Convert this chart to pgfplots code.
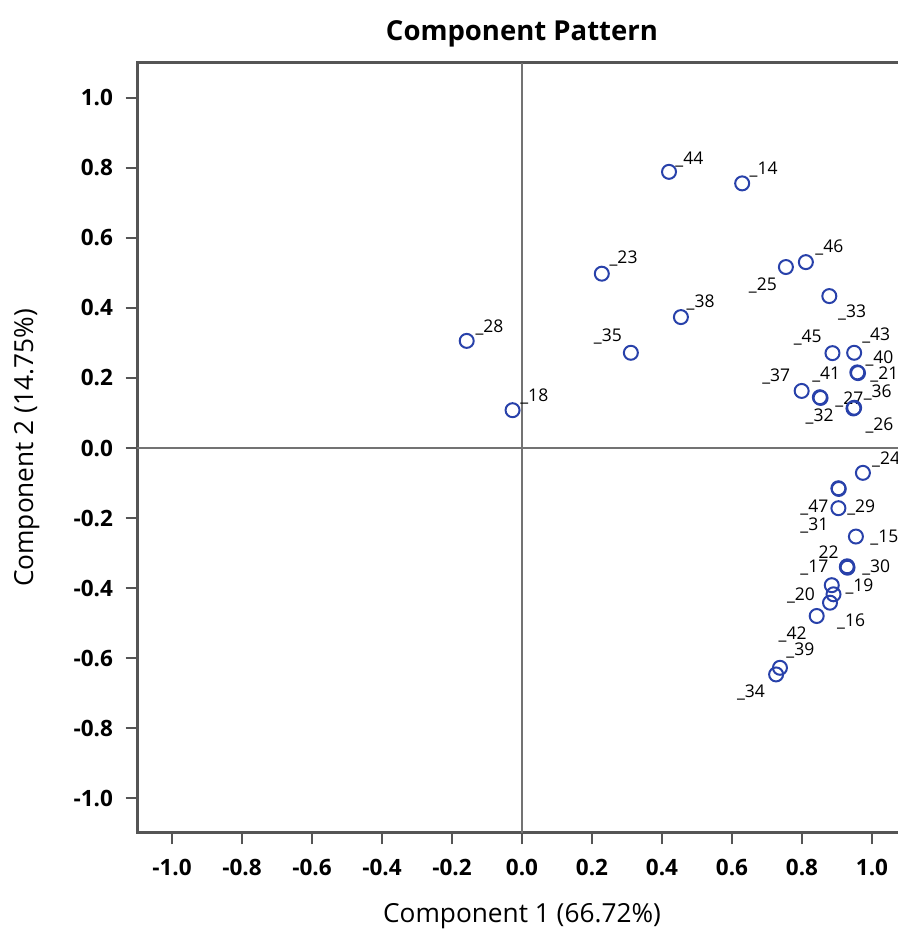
\documentclass[border=0pt]{standalone}
\usepackage{pgfplots}
\pgfplotsset{compat=1.18}
\usepackage{fontspec}
\setmainfont{Open Sans}
\definecolor{ptblue}{RGB}{40,65,170}
\definecolor{axgray}{RGB}{85,85,85}
\definecolor{zgray}{RGB}{115,115,115}
\begin{document}
\begin{tikzpicture}
\begin{axis}[
  width=308pt, height=308pt, scale only axis,
  xmin=-1.1, xmax=1.1, ymin=-1.1, ymax=1.1,
  xtick={-1,-0.8,...,1.01}, ytick={-1,-0.8,...,1.01},
  /pgf/number format/.cd, fixed, fixed zerofill, precision=1, assume math mode=true,
  /pgfplots/.cd,
  tick align=outside, major tick length=4.5pt,
  xtick pos=bottom, ytick pos=left,
  tick style={axgray, line width=0.8pt},
  axis line style={axgray, line width=1.2pt},
  ticklabel style={font=\fontsize{9}{10}\selectfont\bfseries},
  xticklabel style={yshift=-2.4pt},
  yticklabel style={xshift=-1.6pt},
  title={Component Pattern},
  title style={font=\fontsize{11}{13}\selectfont\bfseries, at={(axis description cs:0.5,1.018)}, anchor=center},
  xlabel={Component 1 (66.72\%)},
  ylabel={Component 2 (14.75\%)},
  xlabel style={font=\fontsize{10.5}{12}\selectfont, at={(axis description cs:0.5,-0.1078)}, anchor=center},
  ylabel style={font=\fontsize{10.5}{12}\selectfont, at={(axis description cs:-0.143,0.5)}, anchor=center},
]
\draw[zgray, line width=0.8pt] (axis cs:0,-1.1) -- (axis cs:0,1.1);
\draw[zgray, line width=0.8pt] (axis cs:-1.1,0) -- (axis cs:1.1,0);
\addplot[only marks, mark=o, mark size=2.8pt, mark options={ptblue, line width=0.8pt}] table[row sep=\\] {
x y \\
0.629 0.756 \\
0.420 0.789 \\
0.228 0.498 \\
0.811 0.531 \\
0.754 0.517 \\
0.878 0.434 \\
0.454 0.374 \\
-0.158 0.306 \\
-0.027 0.108 \\
0.311 0.272 \\
0.887 0.271 \\
0.949 0.272 \\
0.958 0.216 \\
0.960 0.214 \\
0.799 0.163 \\
0.851 0.145 \\
0.853 0.143 \\
0.947 0.113 \\
0.949 0.115 \\
0.974 -0.071 \\
0.904 -0.115 \\
0.905 -0.117 \\
0.904 -0.172 \\
0.954 -0.253 \\
0.928 -0.340 \\
0.930 -0.342 \\
0.929 -0.338 \\
0.885 -0.392 \\
0.890 -0.418 \\
0.880 -0.442 \\
0.842 -0.480 \\
0.737 -0.628 \\
0.726 -0.647 \\
};
\begin{scope}[every node/.style={font=\fontsize{7}{8}\selectfont, anchor=base west, inner sep=0pt}]
\node at (axis cs:0.437,0.811) {\_44};
\node at (axis cs:0.649,0.782) {\_14};
\node at (axis cs:0.249,0.528) {\_23};
\node at (axis cs:0.837,0.558) {\_46};
\node at (axis cs:0.647,0.449) {\_25};
\node at (axis cs:0.469,0.401) {\_38};
\node at (axis cs:0.902,0.372) {\_33};
\node at (axis cs:0.775,0.301) {\_45};
\node at (axis cs:0.971,0.306) {\_43};
\node at (axis cs:0.980,0.241) {\_40};
\node at (axis cs:0.994,0.197) {\_21};
\node at (axis cs:0.828,0.196) {\_41};
\node at (axis cs:0.685,0.191) {\_37};
\node at (axis cs:0.975,0.144) {\_36};
\node at (axis cs:0.894,0.125) {\_27};
\node at (axis cs:0.809,0.077) {\_32};
\node at (axis cs:0.980,0.049) {\_26};
\node at (axis cs:0.999,-0.047) {\_24};
\node at (axis cs:0.794,-0.185) {\_47};
\node at (axis cs:0.928,-0.185) {\_29};
\node at (axis cs:0.794,-0.237) {\_31};
\node at (axis cs:0.994,-0.271) {\_15};
\node at (axis cs:0.846,-0.315) {22};
\node at (axis cs:0.794,-0.356) {\_17};
\node at (axis cs:0.971,-0.356) {\_30};
\node at (axis cs:0.923,-0.409) {\_19};
\node at (axis cs:0.756,-0.437) {\_20};
\node at (axis cs:0.899,-0.509) {\_16};
\node at (axis cs:0.732,-0.547) {\_42};
\node at (axis cs:0.754,-0.594) {\_39};
\node at (axis cs:0.613,-0.713) {\_34};
\node at (axis cs:-0.134,0.329) {\_28};
\node at (axis cs:-0.006,0.134) {\_18};
\node at (axis cs:0.204,0.304) {\_35};
\end{scope}
\end{axis}
\pgfresetboundingbox
\path (-54.8pt,-40.4pt) rectangle (304pt,333.2pt);
\end{tikzpicture}
\end{document}
